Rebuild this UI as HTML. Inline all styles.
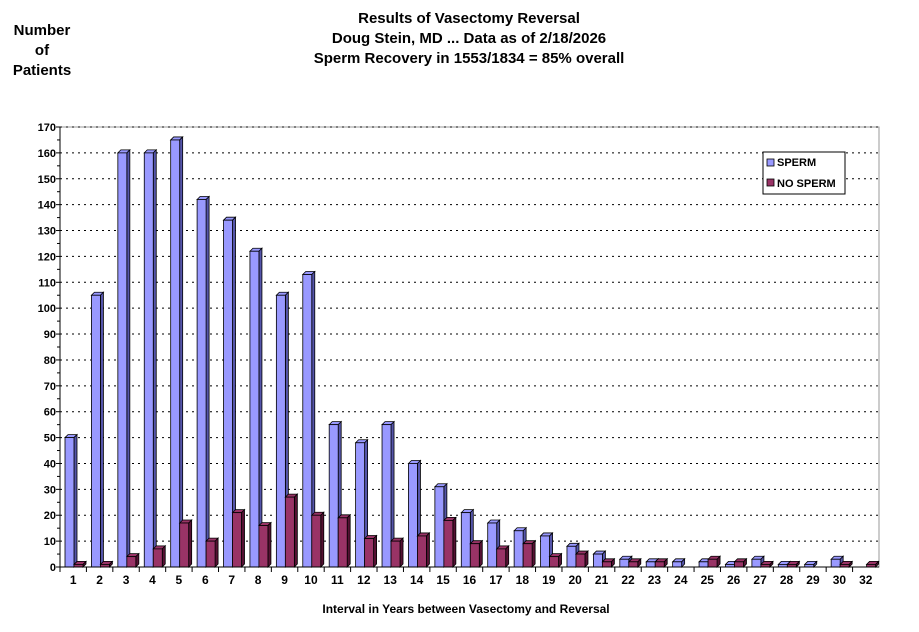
<!DOCTYPE html>
<html><head><meta charset="utf-8"><style>
body{margin:0;background:#fff;width:919px;height:627px;overflow:hidden;font-family:"Liberation Sans",Arial,sans-serif}
</style></head><body>
<svg id="s" width="919" height="627" xmlns="http://www.w3.org/2000/svg" font-family="Liberation Sans, Arial, sans-serif">
<text x="42" y="35" font-size="15" font-weight="bold" text-anchor="middle">Number</text>
<text x="42" y="55" font-size="15" font-weight="bold" text-anchor="middle">of</text>
<text x="42" y="75" font-size="15" font-weight="bold" text-anchor="middle">Patients</text>
<text x="469" y="23" font-size="15" font-weight="bold" text-anchor="middle">Results of Vasectomy Reversal</text>
<text x="469" y="43" font-size="15" font-weight="bold" text-anchor="middle">Doug Stein, MD ... Data as of 2/18/2026</text>
<text x="469" y="63" font-size="15" font-weight="bold" text-anchor="middle">Sperm Recovery in 1553/1834 = 85% overall</text>
<text x="466" y="613" font-size="12" font-weight="bold" text-anchor="middle">Interval in Years between Vasectomy and Reversal</text>
<g id="g"></g>
</svg>
<script>
const g=document.getElementById('g');let h='';
const X0=60,X1=879,Y0=567,Y1=127,k=(Y0-Y1)/170;
const sp=[50,105,160,160,165,142,134,122,105,113,55,48,55,40,31,21,17,14,12,8,5,3,2,2,2,1,3,1,1,3,0];
const ns=[1,1,4,7,17,10,21,16,27,20,19,11,10,12,18,9,7,9,4,5,2,2,2,0,3,2,1,1,0,1,1];
const lab=[];for(let i=1;i<=30;i++)lab.push(i);lab.push(32);
h+=`<rect x="${X0}" y="${Y1}" width="${X1-X0}" height="${Y0-Y1}" fill="none" stroke="#999" stroke-width="1"/>`;
for(let v=0;v<=170;v+=10){const y=Y0-v*k;
 if(v>0)h+=`<line x1="${X0}" x2="${X1}" y1="${y}" y2="${y}" stroke="#000" stroke-dasharray="2,4"/>`;
 h+=`<line x1="${X0-4}" x2="${X0}" y1="${y}" y2="${y}" stroke="#000"/>`;
 h+=`<text x="${X0-4}" y="${y+4}" font-size="11" font-weight="bold" text-anchor="end">${v}</text>`;
 if(v<170)h+=`<line x1="${X0-3}" x2="${X0}" y1="${y-5*k}" y2="${y-5*k}" stroke="#000"/>`;}
const cw=(X1-X0)/31;
function bar(x,v,f,d){if(v<=0&&f!=='#993366')return '';const y=Y0-v*k,w=9,o=3;
 return `<polygon points="${x},${y} ${x+o},${y-o} ${x+w+o},${y-o} ${x+w},${y}" fill="${f}" stroke="#000" stroke-width="0.8"/>`+
 `<polygon points="${x+w},${y} ${x+w+o},${y-o} ${x+w+o},${Y0-o} ${x+w},${Y0}" fill="${d}" stroke="#000" stroke-width="0.8"/>`+
 `<rect x="${x}" y="${y}" width="${w}" height="${Y0-y}" fill="${f}" stroke="#000" stroke-width="0.8"/>`;}
for(let i=0;i<31;i++){const bx=X0+i*cw;
 h+=bar(bx+5,sp[i],'#9999ff','#5555aa');
 if(ns[i]>0)h+=bar(bx+14,ns[i],'#993366','#551133');
 h+=`<line x1="${bx}" x2="${bx}" y1="${Y0}" y2="${Y0+5}" stroke="#000"/>`;
 h+=`<text x="${bx+cw/2}" y="${Y0+17}" font-size="12" font-weight="bold" text-anchor="middle">${lab[i]}</text>`;}
h+=`<line x1="${X0}" x2="${X1}" y1="${Y0}" y2="${Y0}" stroke="#000"/><line x1="${X0}" x2="${X0}" y1="${Y1}" y2="${Y0}" stroke="#000"/>`;
h+=`<rect x="763" y="152" width="82" height="42" fill="#fff" stroke="#000"/>`;
h+=`<rect x="767" y="159" width="7" height="7" fill="#9999ff" stroke="#000" stroke-width="0.8"/><text x="777" y="166" font-size="11" font-weight="bold">SPERM</text>`;
h+=`<rect x="767" y="179" width="7" height="7" fill="#993366" stroke="#000" stroke-width="0.8"/><text x="777" y="187" font-size="11" font-weight="bold">NO SPERM</text>`;
g.innerHTML=h;
</script>
</body></html>
